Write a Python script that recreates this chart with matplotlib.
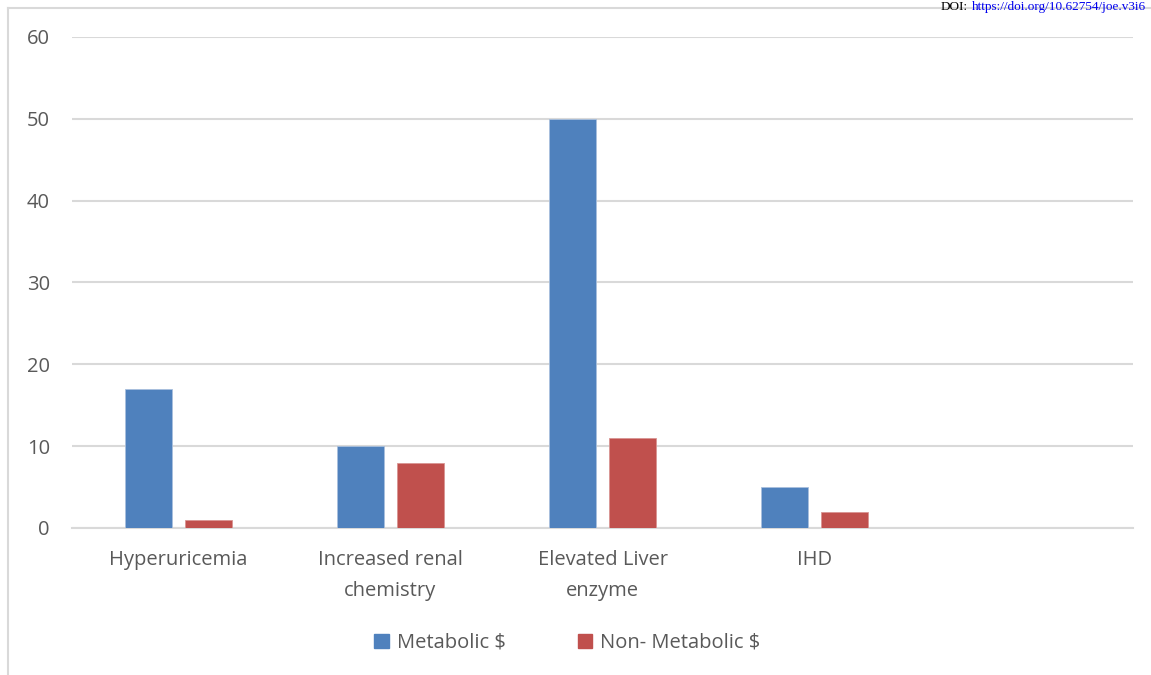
import numpy as np
import matplotlib.pyplot as plt
from matplotlib.patches import Patch

categories = ['Hyperuricemia', 'Increased renal\nchemistry', 'Elevated Liver\nenzyme', 'IHD', '']
metabolic = [17, 10, 50, 5, 0]
non_metabolic = [1, 8, 11, 2, 0]

blue = '#4f81bd'
red = '#c0504d'
grey = '#595959'

plt.rcParams['font.family'] = ['Open Sans', 'DejaVu Sans']

fig = plt.figure(figsize=(11.51, 6.75), dpi=100)
# outer chart frame
fig.add_artist(plt.Line2D([0.007, 0.007], [0, 0.988], color='#d9d9d9', lw=1.5))
fig.add_artist(plt.Line2D([0.007, 1.0], [0.988, 0.988], color='#d9d9d9', lw=1.5))
fig.text(0.841, 0.999, 'DOI:', ha='right', va='top',
         fontsize=9.5, family='Liberation Serif', color='black')
fig.text(0.996, 0.999, 'https://doi.org/10.62754/joe.v3i6', ha='right', va='top',
         fontsize=9.5, family='Liberation Serif', color='#0000ee')

ax = fig.add_axes([0.0626, 0.2178, 0.9218, 0.7274])
x = np.arange(len(categories))
w = 0.222
off = 0.1415
ax.bar(x - off, metabolic, w, color=blue, edgecolor='#a9c0dd', linewidth=0.6, zorder=3)
ax.bar(x + off, non_metabolic, w, color=red, edgecolor='#d99593', linewidth=0.6, zorder=3)

ax.set_xlim(-0.5, 4.5)
ax.set_ylim(0, 60)
ax.set_yticks(range(0, 61, 10))
ax.yaxis.grid(True, color='#d9d9d9', lw=1.5, zorder=0)
ax.set_xticks(x)
ax.set_xticklabels(categories, fontsize=14.5, color=grey, linespacing=1.7)
ax.tick_params(axis='y', labelsize=14.5, labelcolor=grey, length=0, pad=16)
ax.tick_params(axis='x', length=0, pad=16)
for s in ['top', 'right', 'left']:
    ax.spines[s].set_visible(False)
ax.spines['bottom'].set_color('#d9d9d9')
ax.spines['bottom'].set_linewidth(1.5)

handles = [Patch(color=blue, label='Metabolic $'), Patch(color=red, label='Non- Metabolic $')]
fig.legend(handles=handles, loc='center', bbox_to_anchor=(0.493, 0.048), ncol=2,
           frameon=False, fontsize=14.5, labelcolor=grey, handlelength=0.7,
           handleheight=0.7, columnspacing=3.6, handletextpad=0.4)

fig.savefig('out.png', dpi=100)
